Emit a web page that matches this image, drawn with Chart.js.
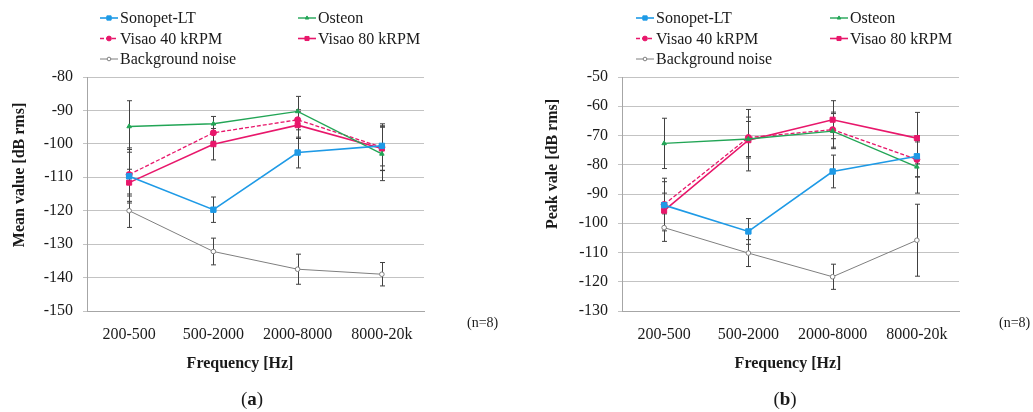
<!DOCTYPE html>
<html>
<head>
<meta charset="utf-8">
<script src="https://cdn.jsdelivr.net/npm/chart.js@4.4.1/dist/chart.umd.min.js"></script>
<style>
  body { margin: 0; background: #fff; width: 1033px; height: 412px; position: relative; overflow: hidden; }
  .wrap { position: absolute; top: 0; height: 412px; }
</style>
</head>
<body>
<div class="wrap" style="left:0;width:516px"><canvas id="chartA"></canvas></div>
<div class="wrap" style="left:516px;width:517px"><canvas id="chartB"></canvas></div>
<script>
/* two panels: (a) mean value, (b) peak value, with error bars */

const categories = ['200-500', '500-2000', '2000-8000', '8000-20k'];
const seriesNames = ['Sonopet-LT', 'Osteon', 'Visao 40 kRPM', 'Visao 80 kRPM', 'Background noise'];

// (a) mean value [dB rms]
const meanSonopet    = [-109.7, -119.7, -102.6, -100.6];
const meanOsteon     = [-94.8, -94.0, -90.3, -103.0];
const meanVisao40    = [-109.2, -96.7, -92.8, -101.0];
const meanVisao80    = [-111.6, -100.1, -94.4, -101.4];
const meanBackground = [-120.0, -132.2, -137.5, -139.0];

const meanSonopetErr    = [8.0, 3.8, 4.6, 6.0];
const meanOsteonErr     = [7.7, 2.2, 4.5, 8.0];
const meanVisao40Err    = [8.0, 2.5, 3.0, 7.0];
const meanVisao80Err    = [4.0, 4.7, 4.0, 6.5];
const meanBackgroundErr = [5.0, 4.0, 4.5, 3.5];

// (b) peak value [dB rms]
const peakSonopet    = [-93.8, -102.8, -82.3, -77.1];
const peakOsteon     = [-72.7, -71.2, -68.5, -80.7];
const peakVisao40    = [-93.6, -70.7, -68.0, -78.2];
const peakVisao80    = [-95.7, -71.6, -64.6, -70.9];
const peakBackground = [-101.5, -110.2, -118.3, -105.8];

const peakSonopetErr    = [8.0, 4.4, 5.6, 7.0];
const peakOsteonErr     = [8.6, 6.0, 6.0, 9.0];
const peakVisao40Err    = [9.0, 7.0, 6.0, 6.0];
const peakVisao80Err    = [6.0, 10.5, 6.5, 8.8];
const peakBackgroundErr = [4.7, 4.6, 4.3, 12.3];

const yTicksA = { min: -150, max: -80, step: 10 };
const yTicksB = { min: -130, max: -50, step: 10 };

const COLORS = {
  blue:  '#1e9ae6',
  green: '#22a556',
  pink:  '#e8176b',
  gray:  '#7f7f7f',
  err:   '#404040'
};

const SERIF = '"Liberation Serif", "Times New Roman", serif';
Chart.defaults.font.family = SERIF;
Chart.defaults.color = '#1a1a1a';

function makeDatasets(values, errors) {
  const styles = [
    { color: COLORS.blue,  point: 'rect',     radius: 3.8, width: 1.6, dash: [] },
    { color: COLORS.green, point: 'triangle', radius: 2.6, width: 1.4, dash: [] },
    { color: COLORS.pink,  point: 'circle',   radius: 3.0, width: 1.3, dash: [4, 2] },
    { color: COLORS.pink,  point: 'rect',     radius: 3.6, width: 1.6, dash: [] },
    { color: COLORS.gray,  point: 'circle',   radius: 2.3, width: 1.0, dash: [] }
  ];
  return values.map((v, i) => ({
    label: seriesNames[i],
    data: v,
    errors: errors[i],
    borderColor: styles[i].color,
    borderWidth: styles[i].width,
    borderDash: styles[i].dash,
    pointStyle: styles[i].point,
    pointRadius: styles[i].radius,
    pointBackgroundColor: i === 4 ? '#ffffff' : styles[i].color,
    pointBorderColor: styles[i].color,
    pointBorderWidth: 1,
    tension: 0,
    fill: false
  }));
}

// ─── error bars, drawn through the chart's scales ───────────────
const errorBars = {
  id: 'errorBars',
  beforeDatasetsDraw(chart) {
    const { ctx, scales: { x, y } } = chart;
    ctx.save();
    ctx.strokeStyle = COLORS.err;
    ctx.lineWidth = 1;
    chart.data.datasets.forEach(ds => {
      ds.data.forEach((v, i) => {
        const e = ds.errors[i];
        const px = Math.round(x.getPixelForValue(i)) + 0.5;
        const top = y.getPixelForValue(v + e);
        const bot = y.getPixelForValue(v - e);
        ctx.beginPath();
        ctx.moveTo(px, top); ctx.lineTo(px, bot);
        ctx.moveTo(px - 2.5, top); ctx.lineTo(px + 2.5, top);
        ctx.moveTo(px - 2.5, bot); ctx.lineTo(px + 2.5, bot);
        ctx.stroke();
      });
    });
    ctx.restore();
  }
};

// ─── two-column legend + extra labels ───────────────────────────
const decorations = {
  id: 'decorations',
  afterDraw(chart, args, opts) {
    const { ctx } = chart;
    ctx.save();

    // legend
    const slots = [[0, 0], [1, 0], [0, 1], [1, 1], [0, 2]];
    chart.data.datasets.forEach((ds, i) => {
      const lx = opts.legendX + slots[i][0] * opts.legendCol;
      const ly = 18 + slots[i][1] * 20.5;
      ctx.strokeStyle = ds.borderColor;
      ctx.lineWidth = ds.borderWidth;
      ctx.setLineDash(ds.borderDash);
      ctx.beginPath();
      ctx.moveTo(lx, ly); ctx.lineTo(lx + 18, ly);
      ctx.stroke();
      ctx.setLineDash([]);
      ctx.fillStyle = ds.pointBackgroundColor;
      ctx.strokeStyle = ds.pointBorderColor;
      ctx.lineWidth = 1;
      Chart.helpers.drawPoint(ctx, {
        pointStyle: ds.pointStyle,
        radius: ds.pointRadius * 0.8,
        rotation: 0,
        borderWidth: 1
      }, lx + 9, ly);
      ctx.fillStyle = '#1a1a1a';
      ctx.font = '16px ' + SERIF;
      ctx.textAlign = 'left';
      ctx.textBaseline = 'middle';
      ctx.fillText(ds.label, lx + 20, ly + 1);
    });

    // y title
    ctx.save();
    ctx.translate(opts.yTitleX, opts.yTitleY);
    ctx.rotate(-Math.PI / 2);
    ctx.font = 'bold 16px ' + SERIF;
    ctx.textAlign = 'center';
    ctx.textBaseline = 'middle';
    ctx.fillStyle = '#1a1a1a';
    ctx.fillText(opts.yTitle, 0, 0);
    ctx.restore();

    // x title
    ctx.fillStyle = '#1a1a1a';
    ctx.textAlign = 'center';
    ctx.textBaseline = 'middle';
    ctx.font = 'bold 16px ' + SERIF;
    ctx.fillText('Frequency [Hz]', opts.xTitleX, 364);

    ctx.font = '14px ' + SERIF;
    ctx.textAlign = 'left';
    ctx.fillText('(n=8)', opts.nX, 323);

    // panel caption, bold letter in plain parentheses
    ctx.font = '19px ' + SERIF;
    const pw = ctx.measureText('(').width;
    ctx.font = 'bold 19px ' + SERIF;
    const aw = ctx.measureText(opts.caption).width;
    const start = opts.capX - (2 * pw + aw) / 2;
    ctx.font = '19px ' + SERIF;
    ctx.fillText('(', start, 400);
    ctx.fillText(')', start + pw + aw, 400);
    ctx.font = 'bold 19px ' + SERIF;
    ctx.fillText(opts.caption, start + pw, 400);

    ctx.restore();
  }
};

function renderPanel(canvasId, values, errors, ticks, deco, padLeft, padRight) {
  const ctx = document.getElementById(canvasId).getContext('2d');
  return new Chart(ctx, {
    type: 'line',
    data: { labels: categories, datasets: makeDatasets(values, errors) },
    plugins: [errorBars, decorations],
    options: {
      responsive: true,
      maintainAspectRatio: false,
      animation: false,
      layout: { padding: { left: padLeft, right: padRight, top: 77, bottom: 0 } },
      plugins: {
        legend: { display: false },
        tooltip: { enabled: false },
        decorations: deco
      },
      scales: {
        x: {
          offset: true,
          grid: { display: false, drawTicks: false },
          border: { color: '#a6a6a6', width: 1 },
          ticks: { font: { size: 16 }, padding: 14, maxRotation: 0, color: '#1a1a1a' },
          afterFit(scale) { scale.height = 101; }
        },
        y: {
          min: ticks.min,
          max: ticks.max,
          grid: { color: '#c3c3c3', tickLength: 4, lineWidth: 1 },
          border: { color: '#a6a6a6', width: 1 },
          ticks: { stepSize: ticks.step, font: { size: 16 }, padding: 10, color: '#1a1a1a' },
          afterFit(scale) { scale.width = 87; }
        }
      }
    }
  });
}

renderPanel('chartA',
  [meanSonopet, meanOsteon, meanVisao40, meanVisao80, meanBackground],
  [meanSonopetErr, meanOsteonErr, meanVisao40Err, meanVisao80Err, meanBackgroundErr],
  yTicksA,
  { legendX: 100, legendCol: 198, yTitle: 'Mean value [dB rms]', yTitleX: 20, yTitleY: 175,
    xTitleX: 240, nX: 467, caption: 'a', capX: 252 },
  0, 92);

renderPanel('chartB',
  [peakSonopet, peakOsteon, peakVisao40, peakVisao80, peakBackground],
  [peakSonopetErr, peakOsteonErr, peakVisao40Err, peakVisao80Err, peakBackgroundErr],
  yTicksB,
  { legendX: 120, legendCol: 194, yTitle: 'Peak vale [dB rms]', yTitleX: 37, yTitleY: 164,
    xTitleX: 272, nX: 483, caption: 'b', capX: 269 },
  19, 74);
</script>
</body>
</html>
